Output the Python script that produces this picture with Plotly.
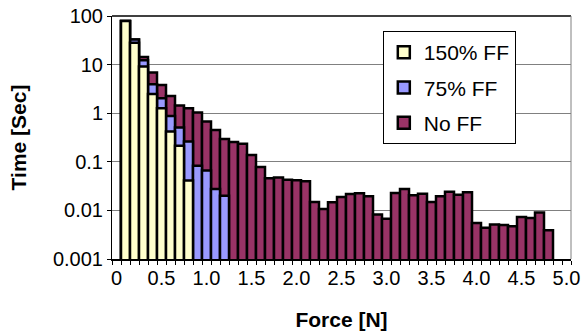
import plotly.graph_objects as go

# Force bins (category centres, N)
force_bins = [0.1, 0.2, 0.3, 0.4, 0.5, 0.6, 0.7, 0.8, 0.9, 1.0,
              1.1, 1.2, 1.3, 1.4, 1.5, 1.6, 1.7, 1.8, 1.9, 2.0,
              2.1, 2.2, 2.3, 2.4, 2.5, 2.6, 2.7, 2.8, 2.9, 3.0,
              3.1, 3.2, 3.3, 3.4, 3.5, 3.6, 3.7, 3.8, 3.9, 4.0,
              4.1, 4.2, 4.3, 4.4, 4.5, 4.6, 4.7, 4.8]

no_ff = [79, 32.7, 14.4, 6.85, 3.82, 2.27, 1.44, 1.27, 1.03, 0.676,
         0.449, 0.294, 0.255, 0.235, 0.138, 0.078, 0.046, 0.0475, 0.0429, 0.0416,
         0.0396, 0.0149, 0.0107, 0.0147, 0.0189, 0.0218, 0.0225, 0.0195, 0.0082, 0.0067,
         0.0229, 0.0276, 0.0205, 0.0221, 0.0149, 0.0195, 0.0243, 0.0211, 0.0236, 0.0055,
         0.0044, 0.0051, 0.0050, 0.0047, 0.0073, 0.0070, 0.0091, 0.0039]

ff_75 = [79, 32.7, 12.3, 3.95, 2.03, 0.88, 0.51, 0.262, 0.083, 0.0665, 0.0276, 0.0201]

ff_150 = [79, 28.3, 9.1, 2.49, 1.27, 0.42, 0.213, 0.0413]

x_tickvals = [0, 0.5, 1.0, 1.5, 2.0, 2.5, 3.0, 3.5, 4.0, 4.5, 5.0]
x_ticktext = ["0", "0.5", "1.0", "1.5", "2.0", "2.5", "3.0", "3.5", "4.0", "4.5", "5.0"]
y_tickvals = [0.001, 0.01, 0.1, 1, 10, 100]
y_ticktext = ["0.001", "0.01", "0.1", "1", "10", "100"]

FONT = "Liberation Sans, Arial, sans-serif"

fig = go.Figure()
series = [("No FF", force_bins, no_ff, "#993366", 3),
          ("75% FF", force_bins[:len(ff_75)], ff_75, "#9999FF", 2),
          ("150% FF", force_bins[:len(ff_150)], ff_150, "#FFFFCC", 1)]
for name, xs, ys, col, rank in series:
    fig.add_trace(go.Bar(
        x=xs, y=ys, name=name, width=0.1, legendgroup=name, legendrank=rank,
        marker=dict(color=col, line=dict(color="black", width=2.5)),
    ))

fig.update_layout(
    width=584, height=335,
    margin=dict(l=112, r=13, t=16, b=76, autoexpand=False),
    barmode="overlay",
    paper_bgcolor="white", plot_bgcolor="white",
    font=dict(family=FONT, size=20, color="black"),
    showlegend=True,
    legend=dict(
        x=0.590, y=0.938, xanchor="left", yanchor="top",
        bgcolor="white", bordercolor="black", borderwidth=1,
        traceorder="grouped", tracegroupgap=5,
        font=dict(family=FONT, size=21),
        itemwidth=30,
    ),
    xaxis=dict(
        automargin=False,
        range=[-0.05, 5.05], tickmode="array", tickvals=x_tickvals, ticktext=x_ticktext,
        ticks="", showgrid=False, zeroline=False,
        showline=True, linecolor="black", linewidth=1.5, mirror=False,
        minor=dict(tickmode="linear", tick0=-0.05, dtick=0.1, ticks="outside",
                   ticklen=4, tickcolor="black", tickwidth=1, showgrid=False),
        title=dict(text="<b>Force [N]</b>", font=dict(family=FONT, size=21), standoff=25),
        tickfont=dict(family=FONT, size=20),
    ),
    yaxis=dict(
        automargin=False,
        type="log", range=[-3, 2], tickmode="array", tickvals=y_tickvals, ticktext=y_ticktext,
        ticks="outside", ticklen=4, tickcolor="black",
        showgrid=True, gridcolor="#808080", gridwidth=1, zeroline=False,
        showline=True, linecolor="black", linewidth=1,
        title=dict(text="<b>Time [Sec]</b>", font=dict(family=FONT, size=21), standoff=20),
        tickfont=dict(family=FONT, size=20),
    ),
    shapes=[
        dict(type="line", xref="paper", yref="paper", x0=0, x1=1, y0=1, y1=1,
             line=dict(color="black", width=1.5)),
        dict(type="line", xref="paper", yref="paper", x0=1, x1=1, y0=0, y1=1,
             line=dict(color="#808080", width=1)),
    ],
)

fig.write_html("out.html", config={"displayModeBar": False},
               post_script="document.body.style.margin='0';")
